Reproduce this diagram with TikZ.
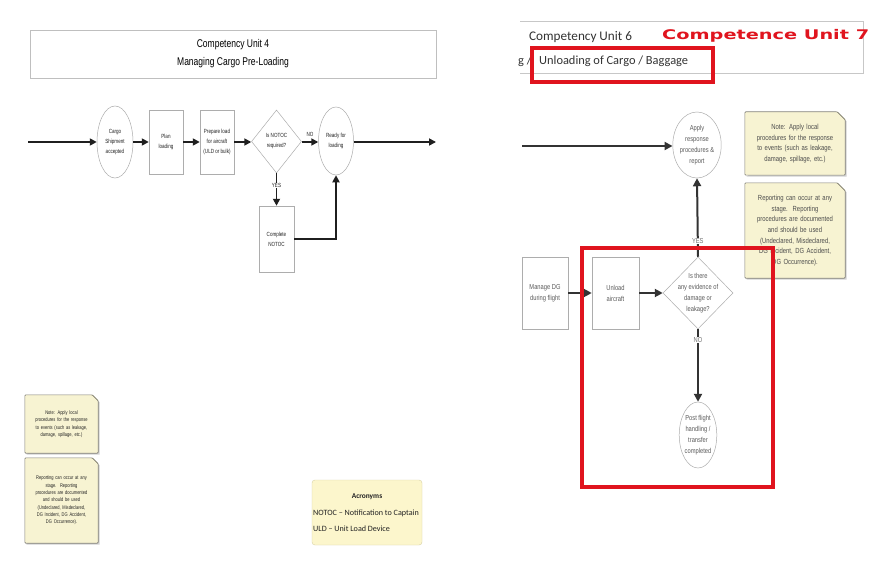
\documentclass[tikz,border=0pt]{standalone}
\usepackage{fontspec}
\setmainfont{Liberation Sans}
\newfontfamily\narrowfont[FakeStretch=0.76]{Liberation Sans}
\newfontfamily\narrowR[FakeStretch=0.8]{Liberation Sans}
\newfontfamily\calfont{Carlito}
\newfontfamily\widefont[FakeStretch=1.45]{DejaVu Sans}
\usetikzlibrary{shapes.geometric,arrows.meta,calc,backgrounds}
\definecolor{notefill}{HTML}{F7F3D2}
\definecolor{notedraw}{HTML}{85837A}
\definecolor{foldfill}{HTML}{E2DB78}
\definecolor{acrfill}{HTML}{FCF6CC}
\definecolor{acrdraw}{HTML}{D9D2A6}
\definecolor{redmark}{RGB}{224,20,30}
\definecolor{txt}{HTML}{222222}
\newcommand\smL{\narrowfont\fontsize{6}{10}\selectfont}
\newcommand\smR{\narrowR\fontsize{7.2}{11}\selectfont}
\tikzset{
  shp/.style={draw=black!32, fill=white, line width=0.5pt, inner sep=0pt, align=center, text=txt},
  rbox/.style={shp, rectangle},
  ell/.style={shp, ellipse},
  dia/.style={shp, diamond},
  lft/.style={font=\smL},
  rgt/.style={font=\smR, text=black!65},
  flow/.style={line width=1.7pt, draw=black!88, -{Triangle[length=7pt,width=7pt]}},
  flowR/.style={line width=2pt, draw=black!80, -{Triangle[length=8pt,width=8pt]}},
  lbl/.style={fill=white, inner sep=0.6pt, text=txt},
  note/.style={inner sep=1pt, align=center, text=txt},
  redbox/.style={draw=redmark, line width=4.5pt}
}
\begin{document}
\begin{tikzpicture}[x=1pt,y=-1pt]
\useasboundingbox (0,0) rectangle (877,564);
\begin{scope}[on background layer]
  \fill[white] (0,0) rectangle (877,564);
\end{scope}

% ---------------- left panel ----------------
\node[draw=black!25, minimum width=406pt, minimum height=48pt, align=center,
      font=\narrowfont\fontsize{11.2}{18}\selectfont, text=black] (title4) at (233,54)
      {Competency Unit 4\\Managing Cargo Pre-Loading};

\coordinate (inL) at (28,142);
\node[ell, lft, minimum width=36pt, minimum height=72pt] (cargo) at (115,142) {Cargo\\Shipment\\accepted};
\node[rbox, lft, minimum width=34pt, minimum height=64pt] (plan) at (166,142) {Plan\\loading};
\node[rbox, lft, minimum width=34pt, minimum height=64pt] (prep) at (217,142) {Prepare load\\for aircraft\\(ULD or bulk)};
\node[dia, lft, minimum width=50pt, minimum height=63pt] (notocq) at (276.5,141.5) {Is NOTOC\\required?};
\node[ell, lft, minimum width=35pt, minimum height=68pt] (ready) at (336,141) {Ready for\\loading};
\coordinate (outL) at (436,142);
\node[rbox, lft, minimum width=35pt, minimum height=66pt] (compl) at (276.5,239) {Complete\\NOTOC};

\draw[flow] (inL) -- (cargo.west |- inL);
\draw[flow] (cargo.east |- inL) -- (plan.west |- inL);
\draw[flow] (plan.east |- inL) -- (prep.west |- inL);
\draw[flow] (prep.east |- inL) -- (notocq.west |- inL);
\draw[flow] (notocq.east |- inL) -- node[above=1.5pt, font=\smL, text=txt]{NO} (ready.west |- inL);
\draw[flow] (ready.east |- inL) -- (outL);
\draw[flow] (notocq.south) -- node[lbl, font=\smL, pos=0.38]{YES} (compl.north);
\draw[flow] (compl.east) -| (ready.south);

% notes (left)
\node[note, font=\narrowfont\fontsize{5.3}{7.3}\selectfont, minimum width=73pt, minimum height=58pt, text width=70pt] (n1) at (61.5,424)
  {Note: Apply local\\procedures for the response\\to events (such as leakage,\\damage, spillage, etc.)};
\node[note, font=\narrowfont\fontsize{5.3}{7.3}\selectfont, minimum width=73pt, minimum height=85pt, text width=70pt] (n2) at (61.5,500.5)
  {Reporting can occur at any\\stage.\ \ Reporting\\procedures are documented\\and should be used\\(Undeclared, Misdeclared,\\DG Incident, DG Accident,\\DG Occurrence).};

\node[draw=acrdraw, fill=acrfill, rounded corners=3pt, minimum width=110pt, minimum height=65pt, inner sep=0pt] (acr) at (367,512.5) {};
\node[font=\calfont\bfseries\fontsize{7.4}{8}\selectfont, text=txt] (acrh) at (367,497) {Acronyms};
\node[font=\calfont\fontsize{8.1}{9}\selectfont, text=txt, anchor=west, inner sep=0pt] (acr1) at (313,513) {NOTOC – Notification to Captain};
\node[font=\calfont\fontsize{8.1}{9}\selectfont, text=txt, anchor=west, inner sep=0pt] (acr2) at (313,529) {ULD – Unit Load Device};

% ---------------- right panel ----------------
\begin{scope}
  \clip (520,0) rectangle (877,564);
  \node[draw=black!22, minimum width=360pt, minimum height=52pt] (title6) at (683,47) {};
\end{scope}
\node[font=\calfont\fontsize{13.2}{14}\selectfont, text=black!80, anchor=west, inner sep=0pt] (cu6) at (529,37) {Competency Unit 6};
\node[font=\calfont\fontsize{12.4}{14}\selectfont, text=black!80, anchor=west, inner sep=0pt] (unl) at (539,61) {Unloading of Cargo / Baggage};
\node[font=\calfont\fontsize{12.4}{14}\selectfont, text=black!80, anchor=west, inner sep=0pt] (gtail) at (518,61) {g /};
\node[font=\widefont\bfseries\fontsize{13.3}{15}\selectfont, text=redmark, anchor=west, inner sep=0pt] (cu7) at (662,36) {Competence Unit 7};

\coordinate (inR) at (522,146);
\node[ell, rgt, minimum width=45pt, minimum height=66pt] (apply) at (697,145) {Apply\\response\\procedures \&\\report};
\node[rbox, rgt, minimum width=46pt, minimum height=72pt] (manage) at (545,293) {Manage DG\\during flight};
\node[rbox, rgt, minimum width=47pt, minimum height=72pt] (unload) at (615.5,293) {Unload\\aircraft};
\node[dia, rgt, inner sep=-4pt, minimum width=70pt, minimum height=72pt] (evid) at (698,293) {Is there\\any evidence of\\damage or\\leakage?};
\node[ell, rgt, minimum width=35pt, minimum height=66pt] (post) at (698,435) {Post flight\\handling /\\transfer\\completed};

\draw[flowR] (inR) -- (apply.west |- inR);
\draw[flowR] (evid.north) -- node[lbl, font=\smR, text=black!55, pos=0.2]{YES} (apply.south);
\draw[flowR] (manage) -- (unload);
\draw[flowR] (unload) -- (evid);
\draw[flowR] (evid.south) -- node[lbl, font=\smR, text=black!55, pos=0.15]{NO} (post.north);

\node[note, font=\narrowR\fontsize{7.4}{10.6}\selectfont, minimum width=100pt, minimum height=63pt, text width=96pt, text=black!70] (n3) at (795,143.5)
  {Note: Apply local\\procedures for the response\\to events (such as leakage,\\damage, spillage, etc.)};
\node[note, font=\narrowR\fontsize{7.4}{10.6}\selectfont, minimum width=100pt, minimum height=95pt, text width=96pt, text=black!70] (n4) at (795,230.5)
  {Reporting can occur at any\\stage.\ \ Reporting\\procedures are documented\\and should be used\\(Undeclared, Misdeclared,\\DG Incident, DG Accident,\\DG Occurrence).};

% note shapes behind the texts
\begin{scope}[on background layer]
\foreach \n/\f in {n1/6,n2/6,n3/8,n4/8}{
  \fill[black!18] ($(\n.south west)+(1.5,1.5)$) -- ($(\n.south east)+(1.5,1.5)$) -- ($(\n.north east)+(1.5,\f+1.5)$) -- ($(\n.north east)+(-\f+1.5,1.5)$) -- cycle;
  \draw[notedraw, fill=notefill, line width=0.6pt, rounded corners=1pt]
    (\n.south west) -- (\n.north west) -- ($(\n.north east)+(-\f,0)$) -- ($(\n.north east)+(0,\f)$) -- (\n.south east) -- cycle;
  \draw[notedraw, fill=foldfill, line width=0.4pt]
    ($(\n.north east)+(-\f,0)$) -- ($(\n.north east)+(0,\f)$) .. controls ($(\n.north east)+(-0.4*\f,0.6*\f)$) .. ($(\n.north east)+(-\f,0)$) -- cycle;
}
\end{scope}

% red annotation boxes
\draw[redbox] (532,48) rectangle (713,82);
\draw[redbox] (582,248) rectangle (773,487);
\end{tikzpicture}
\end{document}
